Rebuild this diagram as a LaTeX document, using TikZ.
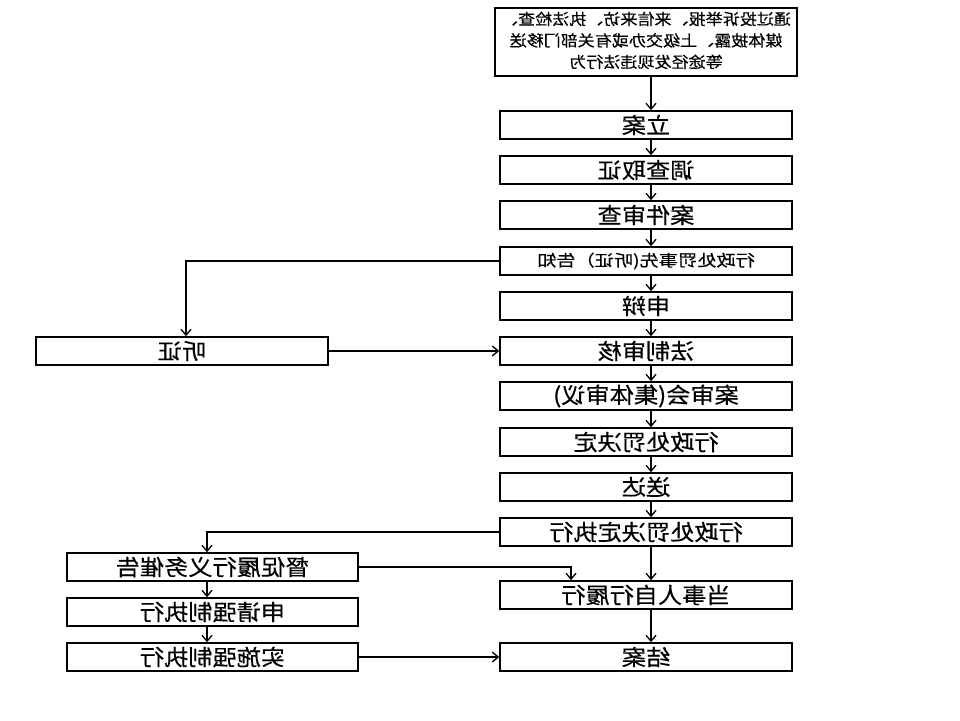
\documentclass[tikz,border=0pt]{standalone}
\usepackage{fontspec}
\usepackage{graphicx}
\newfontfamily\cjk[FakeBold=0.3]{Noto Sans CJK SC}
\usetikzlibrary{arrows.meta}
\newcommand\mr[2][1.1]{\scalebox{-#1}[1]{#2}}
\begin{document}
\begin{tikzpicture}[x=1pt,y=-1pt,
  box/.style={draw, line width=1.5pt, minimum width=292pt, minimum height=28pt, inner sep=0pt, font=\cjk\fontsize{22}{24}\selectfont},
  sbox/.style={box, font=\cjk\fontsize{16}{18}\selectfont},
  arr/.style={line width=1.3pt, -{Straight Barb[length=6pt,width=10pt]}},
  ]
\useasboundingbox[fill=white] (0,0) rectangle (960,720);
\node[draw, line width=1.5pt, minimum width=302pt, minimum height=68pt, inner sep=0pt, font=\cjk\fontsize{15.5}{21.5}\selectfont] (src) at (646,42)
  {\mr{\begin{tabular}{@{}c@{}}通过投诉举报、来信来访、执法检查、\\媒体披露、上级交办或有关部门移送\\等途径发现违法行为\end{tabular}}};
\node[box] (li) at (646,125) {\mr{立案}};
\node[box] (dc) at (646,170) {\mr{调查取证}};
\node[box] (sc) at (646,215) {\mr{案件审查}};
\node[sbox] (gz) at (646,261) {\mr[1.2]{行政处罚事先(听证）告知}};
\node[box] (sb) at (646,306) {\mr{申辩}};
\node[box] (fz) at (646,351) {\mr{法制审核}};
\node[box] (tz) at (182,351) {\mr{听证}};
\node[box] (as) at (646,396) {\mr{案审会(集体审议)}};
\node[box] (jd) at (646,442) {\mr{行政处罚决定}};
\node[box] (sd) at (646,487) {\mr{送达}};
\node[box] (zx) at (646,532) {\mr{行政处罚决定执行}};
\node[box, minimum width=291pt] (dc2) at (212.5,567) {\mr{督促履行义务催告}};
\node[box] (zx2) at (646,595) {\mr{当事人自行履行}};
\node[box, minimum width=291pt] (sq) at (212.5,612) {\mr{申请强制执行}};
\node[box, minimum width=291pt] (ss) at (212.5,657) {\mr{实施强制执行}};
\node[box] (ja) at (646,657) {\mr{结案}};

\foreach \a/\b in {src/li, li/dc, dc/sc, sc/gz, gz/sb, sb/fz, fz/as, as/jd, jd/sd, sd/zx, zx/zx2, zx2/ja}
  \draw[arr] ([xshift=5pt]\a.south) -- ([xshift=5pt]\b.north);
\draw[arr] (gz.west) -| ([xshift=4pt]tz.north);
\draw[arr] (tz.east) -- (fz.west);
\draw[arr] (zx.west) -| ([xshift=-5.5pt]dc2.north);
\draw[arr] (dc2.east) -| ([xshift=-75pt]zx2.north);
\draw[arr] ([xshift=-5.5pt]dc2.south) -- ([xshift=-5.5pt]sq.north);
\draw[arr] ([xshift=-5.5pt]sq.south) -- ([xshift=-5.5pt]ss.north);
\draw[arr] (ss.east) -- (ja.west);
\end{tikzpicture}
\end{document}
